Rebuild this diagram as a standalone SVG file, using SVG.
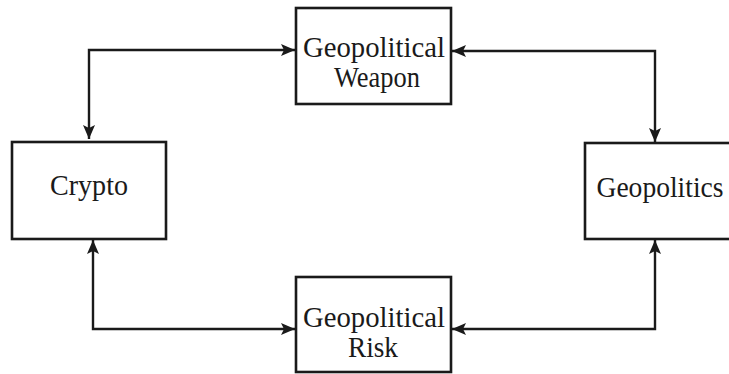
<svg xmlns="http://www.w3.org/2000/svg" width="729" height="374" viewBox="0 0 729 374">
<style>
.box{fill:#fff;stroke:#1a1a1a;stroke-width:2.6}
.lbl{font-family:"Liberation Serif","Times New Roman",serif;font-size:29px;fill:#1a1a1a;text-anchor:middle}
.con{fill:none;stroke:#1a1a1a;stroke-width:2.4;marker-start:url(#ah);marker-end:url(#ah)}
</style>
<defs>
<marker id="ah" markerUnits="userSpaceOnUse" markerWidth="16" markerHeight="14" refX="14" refY="7" orient="auto-start-reverse">
<path d="M0,1 L14,7 L0,13 L3,7 z" fill="#1a1a1a"/>
</marker>
</defs>
<rect width="729" height="374" fill="#fff"/>
<g id="connectors">
<path class="con" d="M89,139 L89,50 L295,50"/>
<path class="con" d="M452,51 L655,51 L655,142"/>
<path class="con" d="M93,240 L93,329 L295,329"/>
<path class="con" d="M452,329 L655,329 L655,240"/>
</g>
<g id="weapon">
<rect class="box" x="296" y="8" width="155" height="96"/>
<text class="lbl" x="374" y="57" textLength="142" lengthAdjust="spacingAndGlyphs">Geopolitical</text>
<text class="lbl" x="377" y="87" textLength="86" lengthAdjust="spacingAndGlyphs">Weapon</text>
</g>
<g id="crypto">
<rect class="box" x="12" y="142" width="154" height="97"/>
<text class="lbl" x="89" y="195" textLength="78" lengthAdjust="spacingAndGlyphs">Crypto</text>
</g>
<g id="geopolitics">
<rect class="box" x="585" y="143" width="160" height="96"/>
<text class="lbl" x="660" y="197" textLength="127" lengthAdjust="spacingAndGlyphs">Geopolitics</text>
</g>
<g id="risk">
<rect class="box" x="296" y="277" width="155" height="95"/>
<text class="lbl" x="374" y="327" textLength="142" lengthAdjust="spacingAndGlyphs">Geopolitical</text>
<text class="lbl" x="373" y="357" textLength="50" lengthAdjust="spacingAndGlyphs">Risk</text>
</g>
</svg>
